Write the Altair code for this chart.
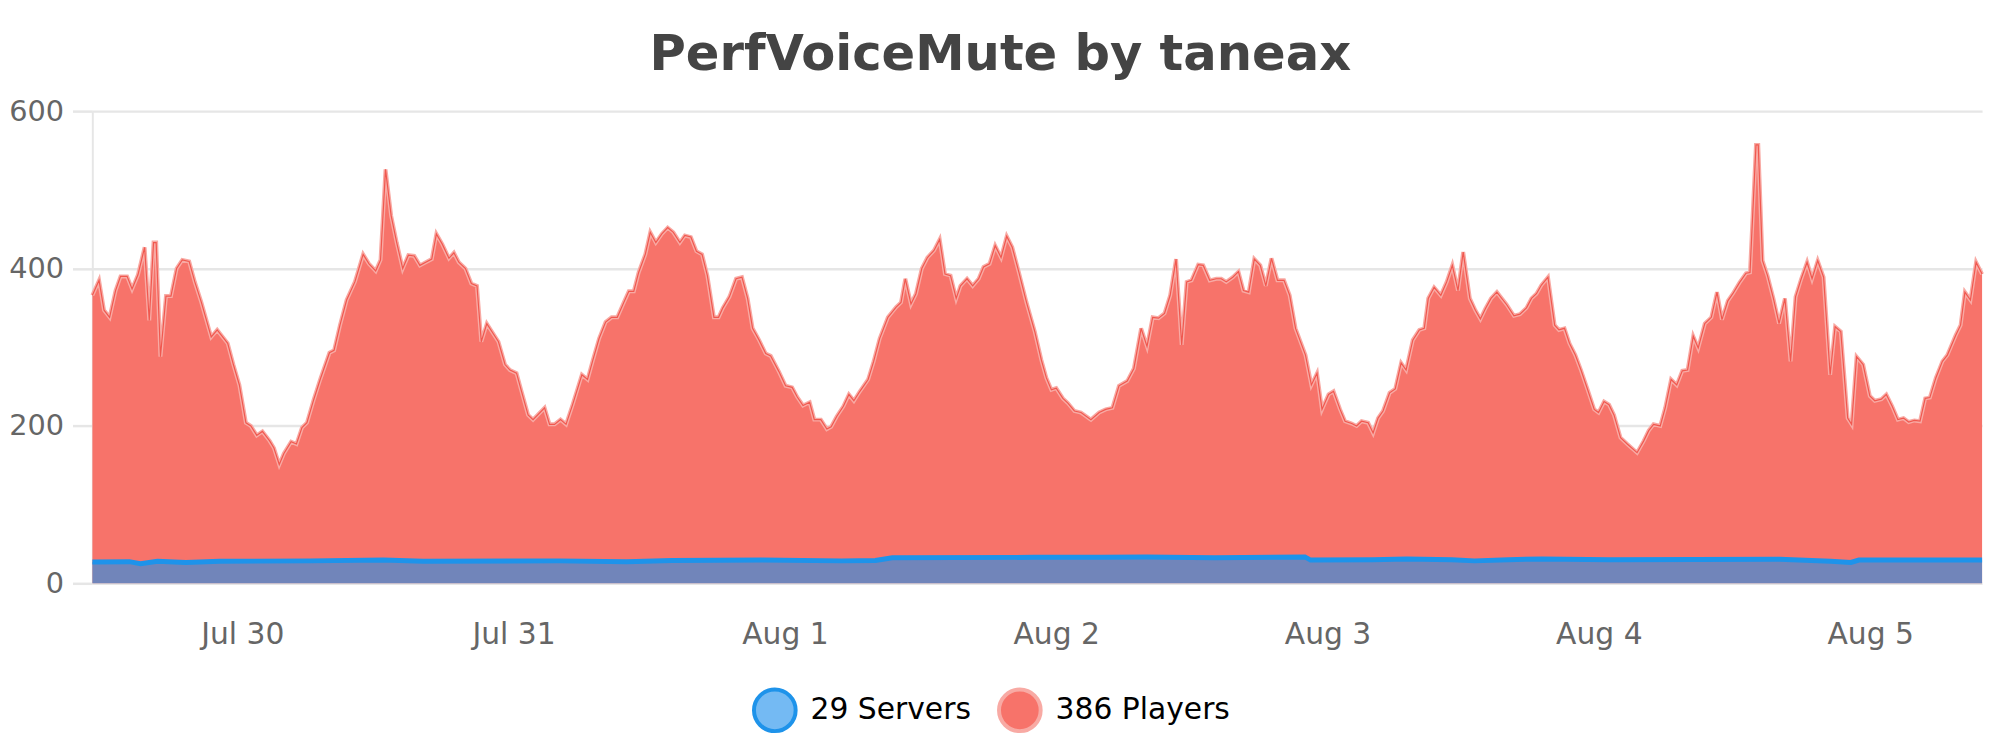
import altair as alt
import pandas as pd

# hours since Jul 29 00:00
player_hours = [
    10.74, 11.33, 11.77, 12.26, 12.79, 13.23, 13.81, 14.25, 14.77, 15.36, 15.77, 16.15, 16.38, 16.76,
    17.25, 17.69, 18.19, 18.69, 19.30, 19.80, 20.38, 21.25, 21.78, 22.71, 23.21, 23.74, 24.32, 24.76,
    25.28, 25.78, 26.42, 26.80, 27.27, 27.68, 28.32, 28.79, 29.28, 29.72, 30.31, 30.89, 31.71, 32.12,
    32.64, 33.23, 33.96, 34.69, 35.21, 35.80, 36.23, 36.67, 37.17, 37.66, 38.19, 38.69, 39.21, 39.71,
    40.23, 40.76, 41.17, 41.69, 42.28, 42.72, 43.15, 43.74, 44.26, 44.76, 45.14, 45.63, 46.66, 47.24,
    47.68, 48.26, 48.70, 49.28, 49.72, 50.74, 51.18, 51.62, 52.15, 52.64,
    53.22, 54.04, 54.54, 54.98, 55.56, 56.14, 56.67, 57.17, 57.75, 58.19, 58.63, 59.06, 59.65, 60.09,
    60.58, 61.11, 61.63, 62.13, 62.71, 63.15, 63.68, 64.17, 64.67, 65.14, 65.72, 66.13, 66.51, 67.09,
    67.68, 68.20, 68.70, 69.14, 69.72, 70.30, 70.74, 71.47, 72.06, 72.64, 73.08, 73.60, 74.19, 74.60,
    75.18, 75.71, 76.09, 76.58, 77.17, 77.66, 78.10, 78.63, 79.36, 79.85, 80.38, 81.11, 81.84, 82.27,
    82.65, 83.15, 83.59, 84.11, 84.61, 85.19, 85.69, 86.16, 86.65, 87.15, 87.53, 88.11, 88.61, 89.14,
    89.57, 90.10, 90.60, 91.12, 91.62, 92.11, 92.70, 93.37, 94.10, 94.68,
    95.13, 95.57, 96.00, 96.59, 97.03, 97.61, 98.19, 99.07, 99.80, 100.38, 100.97, 101.55, 102.28,
    102.87, 103.51, 104.03, 104.53, 105.05, 105.58, 106.08, 106.60, 107.10, 107.54, 107.97, 108.56,
    109.00, 109.58, 110.16, 110.60, 111.04, 111.62, 112.12, 112.56, 113.03, 113.52, 114.05, 114.54,
    115.04, 115.57, 116.15, 116.65, 117.17, 118.05, 118.57, 119.07, 119.51, 120.09, 120.53, 121.11,
    121.55, 122.14, 122.57, 123.01, 123.59, 124.03, 124.47, 124.91, 125.49, 125.99, 126.51, 126.95,
    127.54, 128.12, 128.56, 128.91, 129.43, 130.02, 130.54, 131.04, 131.54, 132.00, 132.59, 133.08,
    133.52, 133.96, 134.46,
    134.98, 135.85, 136.49, 137.02, 137.60, 138.04, 138.48, 138.92, 139.50, 140.09, 140.47, 140.96,
    141.40, 141.92, 142.42, 143.01, 143.59, 143.97, 144.46, 144.90, 145.34, 145.92, 146.51, 147.38,
    147.97, 148.41, 148.84, 149.43, 149.87, 150.39, 150.89, 151.38, 151.85, 152.35, 152.79, 153.37,
    153.95, 154.45, 154.89, 155.41, 155.85, 156.44, 157.02, 157.37, 157.90, 158.10, 158.48, 158.92,
    159.44, 159.94, 160.46, 160.96, 161.40, 161.90, 162.42, 162.86, 163.36, 163.88, 164.46, 164.90,
    165.40, 166.01, 166.36, 166.80, 167.38, 167.97, 168.41, 168.99, 169.43, 169.95, 170.45, 170.95,
    171.41, 171.91, 172.41, 172.87, 173.28, 173.81, 174.39, 174.83, 175.56, 176.00, 176.38, 176.87,
    177.37, 177.90,
]
player_counts = [
    366, 385, 347, 338, 372, 390, 390, 374, 392, 427, 334, 433, 433, 288,
    365, 365, 400, 411, 409, 383, 357, 313, 322, 305, 278, 252, 204, 200,
    188, 193, 181, 172, 151, 165, 180, 177, 198, 204, 233, 259, 293, 296,
    328, 360, 383, 418, 406, 397, 411, 526, 467, 433, 400, 417, 416, 404,
    408, 412, 444, 431, 413, 420, 408, 400, 381, 378, 307, 330, 307, 278,
    271, 267, 244, 214, 208, 223, 202, 202, 208, 202,
    227, 265, 259, 282, 311, 332, 338, 338, 357, 371, 371, 395, 418, 446,
    433, 444, 452, 446, 433, 442, 440, 422, 418, 391, 338, 338, 350, 364,
    387, 389, 362, 324, 309, 292, 289, 269, 251, 249, 237, 226, 230, 208,
    208, 196, 199, 212, 225, 240, 232, 244, 259, 282, 311, 338, 351, 357,
    387, 355, 368, 400, 414, 423, 437, 393, 391, 362, 378, 387, 378, 387,
    402, 406, 429, 414, 441, 427, 395, 357, 320, 284,
    261, 246, 248, 235, 229, 219, 217, 208, 217, 221, 223, 251, 257,
    273, 324, 301, 338, 337, 343, 366, 412, 303, 383, 385, 405,
    404, 385, 387, 387, 383, 389, 396, 372, 370, 412, 404, 378,
    413, 385, 385, 366, 324, 290, 252, 267, 221, 240, 244, 221,
    206, 203, 200, 206, 204, 191, 210, 219, 242, 247, 280, 271,
    309, 322, 324, 362, 376, 366, 383, 404, 372, 421, 362, 347,
    336, 349, 362,
    370, 354, 340, 342, 350, 362, 368, 379, 389, 328, 322, 324,
    305, 290, 271, 246, 221, 217, 231, 227, 214, 185, 177, 166,
    181, 194, 202, 200, 223, 259, 252, 270, 271, 314, 299, 330,
    338, 370, 335, 359, 368, 382, 394, 395, 557, 557, 410, 391,
    362, 330, 362, 282, 364, 387, 408, 387, 410, 389, 265, 326,
    320, 210, 202, 288, 278, 238, 232, 234, 240, 225, 208, 210,
    205, 207, 206, 235, 236, 261, 282, 290, 315, 328, 370, 360,
    408, 393,
]
server_hours = [
    10.74, 14.0, 15.0, 16.5, 19.0, 22.0, 30.0, 36.5, 40.0, 52.0, 58.0, 62.0, 70.0, 77.0, 80.0,
    81.5, 94.0, 100.0, 104.0, 110.0, 118.0, 118.5, 124.0, 127.0, 131.0, 133.0, 136.0, 139.0,
    145.0, 160.0, 164.5, 166.3, 167.0, 177.9,
]
server_counts = [
    27, 27.5, 25, 28, 26.5, 28, 28.5, 29.5, 28, 28.5, 27.5, 29, 29.5, 28.5, 29,
    32.5, 33, 33, 33.5, 32.5, 33.5, 29.5, 30, 31, 30, 28.5, 30, 31,
    30, 30.5, 28, 26.5, 29.5, 29.5,
]

series_names = ["29 Servers", "386 Players"]
fill_colors = ["rgba(30,144,235,0.62)", "#f7736a"]
stroke_colors = ["#1e93ea", "#f8aaa4"]

start = pd.Timestamp("2023-07-29 00:00")
players = pd.DataFrame({
    "time": start + pd.to_timedelta(player_hours, unit="h"),
    "value": player_counts,
    "series": series_names[1],
})
servers = pd.DataFrame({
    "time": start + pd.to_timedelta(server_hours, unit="h"),
    "value": server_counts,
    "series": series_names[0],
})

font = "DejaVu Sans"
grid = "#e6e6e6"

x = alt.X(
    "time:T",
    title=None,
    scale=alt.Scale(
        domain=[alt.DateTime(year=2023, month=7, date=29, hours=10, minutes=44),
                alt.DateTime(year=2023, month=8, date=5, hours=9, minutes=54)],
        nice=False,
    ),
    axis=alt.Axis(format="%b %-d", tickCount="day", grid=False, domain=False, ticks=False,
                  tickSize=0, labelPadding=37, labelFontSize=30, labelColor="#666666",
                  labelFont=font, labelAlign="center", labelFlush=False),
)
y = alt.Y(
    "value:Q",
    title=None,
    scale=alt.Scale(domain=[0, 600], nice=False),
    axis=alt.Axis(values=[0, 200, 400, 600], gridColor=grid, gridWidth=2.5, domainColor=grid,
                  domainWidth=2, tickColor=grid, tickWidth=2.5, tickSize=20, labelPadding=9,
                  labelFontSize=29, labelColor="#666666", labelFont=font),
)

legend = alt.Legend(
    title=None, orient="none", legendX=665, legendY=581, direction="horizontal",
    symbolType="circle", symbolSize=1764, symbolStrokeWidth=4, labelFontSize=30,
    labelColor="#000000", labelFont=font, labelOffset=13, columnPadding=20, labelLimit=0,
)
fill = lambda: alt.Fill("series:N", scale=alt.Scale(domain=series_names, range=fill_colors), legend=legend)
stroke = lambda: alt.Stroke("series:N", scale=alt.Scale(domain=series_names, range=stroke_colors), legend=legend)

players_area = alt.Chart(players).mark_area(opacity=1).encode(x=x, y=y, fill=fill())
servers_area = alt.Chart(servers).mark_area().encode(x=x, y=y, fill=fill())
players_halo = alt.Chart(players).mark_line(strokeWidth=4).encode(x=x, y=y, stroke=stroke())
players_line = alt.Chart(players).mark_line(strokeWidth=1.2, color="#f0584f").encode(x=x, y=y)
servers_line = alt.Chart(servers).mark_line(strokeWidth=5).encode(x=x, y=y, stroke=stroke())

chart = alt.layer(
    players_area, servers_area, players_halo, players_line, servers_line
).properties(
    width=1905,
    height=476,
    padding={"left": 0, "top": 20, "right": 0, "bottom": 0},
    title=alt.Title("PerfVoiceMute by taneax", fontSize=50, font=font, fontWeight="bold",
                    color="#444444", anchor="middle", frame="bounds", offset=17),
).configure_view(stroke=None)

chart.save("out.html", embed_options={"renderer": "svg", "actions": False})
